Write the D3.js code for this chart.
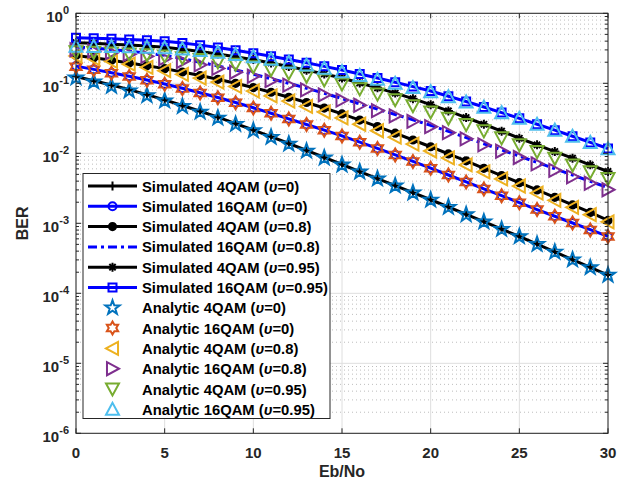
<!DOCTYPE html>
<html>
<head>
<meta charset="utf-8">
<script src="https://cdn.jsdelivr.net/npm/d3@7"></script>
<style>
  body { margin: 0; background: #fff; }
  svg { display: block; font-family: "Liberation Sans", Arial, Helvetica, sans-serif; font-weight: bold; }
</style>
</head>
<body>
<svg id="chart" width="635" height="487"></svg>
<script>
// Eb/No grid (dB)
const ebno = [0,1,2,3,4,5,6,7,8,9,10,11,12,13,14,15,16,17,18,19,20,21,22,23,24,25,26,27,28,29,30];

// Simulated BER curves
const sim4qamV0 = [0.125,0.109,0.0945,0.0812,0.0690,0.0580,0.0482,0.0399,0.0328,0.0266,0.0215,0.0173,0.0138,0.0110,0.00873,0.00692,0.00549,0.00436,0.00346,0.00274,0.00217,0.00171,0.00134,0.00106,8.25e-4,6.48e-4,5.03e-4,3.90e-4,3.02e-4,2.35e-4,1.82e-4];
const sim16qamV0 = [0.176,0.158,0.1415,0.1262,0.1118,0.0980,0.0849,0.0732,0.0627,0.0531,0.0447,0.0374,0.0311,0.0258,0.0214,0.0177,0.01442,0.01173,0.00951,0.00765,0.00613,0.00490,0.00390,0.00311,0.00248,0.00197,0.00157,0.00126,0.00101,8.1e-4,6.5e-4];
const sim4qamV08 = [0.250,0.232,0.213,0.195,0.178,0.162,0.145,0.129,0.114,0.100,0.0870,0.0745,0.0632,0.0532,0.0443,0.0365,0.0298,0.0241,0.0194,0.0155,0.0124,0.0098,0.0078,0.0061,0.0048,0.0038,0.0030,0.00235,0.00183,0.00143,0.00110];
const sim16qamV08 = [0.331,0.318,0.304,0.288,0.270,0.251,0.225,0.200,0.177,0.155,0.135,0.1164,0.100,0.0851,0.0719,0.0605,0.0509,0.0428,0.0359,0.0301,0.0251,0.0206,0.0168,0.0137,0.0112,0.00912,0.00741,0.00603,0.00490,0.00398,0.00324];
const sim4qamV095 = [0.380,0.372,0.362,0.352,0.340,0.327,0.306,0.285,0.263,0.2400,0.218,0.195,0.1738,0.1542,0.1358,0.1189,0.1012,0.0861,0.0724,0.0603,0.0495,0.0403,0.0324,0.0260,0.0207,0.0164,0.0132,0.0106,0.00851,0.00684,0.00550];
const sim16qamV095 = [0.447,0.441,0.433,0.423,0.411,0.398,0.376,0.351,0.324,0.296,0.269,0.243,0.219,0.196,0.1746,0.1549,0.1361,0.1189,0.1035,0.0897,0.0776,0.0653,0.0550,0.0459,0.0382,0.0316,0.0260,0.0214,0.0175,0.0143,0.0117];

// Analytic BER curves
const an4qamV0 = [0.120,0.105,0.0912,0.0785,0.0668,0.0562,0.0468,0.0389,0.0320,0.0260,0.0211,0.0170,0.0136,0.0108,0.00861,0.00684,0.00543,0.00432,0.00343,0.00272,0.00216,0.00170,0.00133,0.00105,8.22e-4,6.46e-4,5.01e-4,3.89e-4,3.02e-4,2.34e-4,1.82e-4];
const an16qamV0 = [0.1726,0.1556,0.1396,0.1250,0.1109,0.0973,0.0843,0.0728,0.0624,0.0528,0.0445,0.0372,0.0309,0.0257,0.0213,0.0176,0.01436,0.01169,0.00948,0.00762,0.00611,0.00488,0.00389,0.00310,0.00247,0.00197,0.00157,0.00126,0.00101,8.05e-4,6.46e-4];
const an4qamV08 = [0.2455,0.2254,0.2061,0.1875,0.1690,0.1514,0.1343,0.1186,0.1040,0.0902,0.0776,0.0661,0.0558,0.0468,0.0389,0.0320,0.0260,0.0210,0.0170,0.01355,0.01079,0.00859,0.00682,0.00542,0.00431,0.00341,0.00270,0.00213,0.00169,0.00133,0.00105];
const an16qamV08 = [0.302,0.288,0.274,0.259,0.243,0.226,0.205,0.184,0.163,0.144,0.126,0.109,0.0940,0.0804,0.0682,0.0575,0.0485,0.0407,0.0342,0.0286,0.0240,0.0197,0.0161,0.0132,0.0107,0.00871,0.00705,0.00570,0.00461,0.00373,0.00302];
const an4qamV095 = [0.282,0.277,0.270,0.263,0.255,0.2455,0.232,0.218,0.203,0.1875,0.1726,0.1563,0.1406,0.1259,0.1114,0.0977,0.0832,0.0700,0.0582,0.0479,0.0389,0.0316,0.0257,0.0209,0.0166,0.0132,0.01057,0.00847,0.00679,0.00543,0.00435];
const an16qamV095 = [0.339,0.337,0.335,0.332,0.328,0.322,0.309,0.294,0.277,0.258,0.240,0.220,0.200,0.182,0.164,0.1466,0.1297,0.1143,0.100,0.0871,0.0759,0.0643,0.0542,0.0456,0.0380,0.0316,0.0260,0.0214,0.0175,0.0143,0.0116];

// Legend text and axis ticks
const legendNames = ["Simulated 4QAM","Simulated 16QAM","Simulated 4QAM","Simulated 16QAM","Simulated 4QAM","Simulated 16QAM",
                     "Analytic 4QAM","Analytic 16QAM","Analytic 4QAM","Analytic 16QAM","Analytic 4QAM","Analytic 16QAM"];
const legendNu = ["0","0","0.8","0.8","0.95","0.95","0","0","0.8","0.8","0.95","0.95"];
const xTicks = [0,5,10,15,20,25,30];
const yExponents = [0,-1,-2,-3,-4,-5,-6];

// ---------- drawing ----------
const svg = d3.select("#chart");
const L = 76, R = 608, T = 13.3, B = 433.3;
const x = d3.scaleLinear().domain([0, 30]).range([L, R]);
const y = d3.scaleLog().domain([1e-6, 1]).range([B, T]);
const axisColor = "#262626";

// marker path builders (centered at 0,0)
function starPath(n, rOut, rIn) {
  const p = d3.path();
  for (let i = 0; i < 2 * n; i++) {
    const r = i % 2 ? rIn : rOut;
    const a = -Math.PI / 2 + i * Math.PI / n;
    const px = r * Math.cos(a), py = r * Math.sin(a);
    i ? p.lineTo(px, py) : p.moveTo(px, py);
  }
  p.closePath();
  return p.toString();
}
const M = {
  plus: s => `M${-s},0H${s}M0,${-s}V${s}`,
  asterisk: s => { const d = s * 0.7; return `M${-s},0H${s}M0,${-s}V${s}M${-d},${-d}L${d},${d}M${-d},${d}L${d},${-d}`; },
  circle: s => `M${s},0A${s},${s} 0 1,1 ${-s},0A${s},${s} 0 1,1 ${s},0Z`,
  square: s => `M${-s},${-s}H${s}V${s}H${-s}Z`,
  pentagram: s => starPath(5, s, s * 0.40),
  hexagram: s => starPath(6, s, s * 0.577),
  triLeft: s => `M${-s},0L${s * 0.85},${-s}L${s * 0.85},${s}Z`,
  triRight: s => `M${s},0L${-s * 0.85},${-s}L${-s * 0.85},${s}Z`,
  triDown: s => `M0,${s}L${-s},${-s * 0.85}L${s},${-s * 0.85}Z`,
  triUp: s => `M0,${-s}L${-s},${s * 0.85}L${s},${s * 0.85}Z`
};

const simSeries = [
  { values: sim4qamV0,    color: "#000000", dash: null,      marker: "plus",     size: 4.5, fill: "none" },
  { values: sim16qamV0,   color: "#0000ff", dash: null,      marker: "circle",   size: 4,   fill: "none" },
  { values: sim4qamV08,   color: "#000000", dash: null,      marker: "circle",   size: 3.6, fill: "#000000" },
  { values: sim16qamV08,  color: "#0000ff", dash: "9,4,3,4", marker: null },
  { values: sim4qamV095,  color: "#000000", dash: null,      marker: "asterisk", size: 4.5, fill: "none" },
  { values: sim16qamV095, color: "#0000ff", dash: null,      marker: "square",   size: 4,   fill: "none" }
];
const anSeries = [
  { values: an4qamV0,    color: "#0072BD", marker: "pentagram", size: 7.5 },
  { values: an16qamV0,   color: "#D95319", marker: "hexagram",  size: 6.5 },
  { values: an4qamV08,   color: "#EDB120", marker: "triLeft",   size: 6.5 },
  { values: an16qamV08,  color: "#7E2F8E", marker: "triRight",  size: 6.5 },
  { values: an4qamV095,  color: "#77AC30", marker: "triDown",   size: 6.5 },
  { values: an16qamV095, color: "#4DBEEE", marker: "triUp",     size: 6.5 }
];

// grid
const grid = svg.append("g");
const minorVals = [];
for (let e = -6; e < 0; e++) for (let m = 2; m <= 9; m++) minorVals.push(m * Math.pow(10, e));
grid.selectAll("line.minor").data(minorVals).join("line")
  .attr("x1", L).attr("x2", R).attr("y1", d => y(d)).attr("y2", d => y(d))
  .attr("stroke", "#bdbdbd").attr("stroke-width", 1).attr("stroke-dasharray", "1,3");
grid.selectAll("line.hmaj").data(yExponents).join("line")
  .attr("x1", L).attr("x2", R).attr("y1", d => y(Math.pow(10, d))).attr("y2", d => y(Math.pow(10, d)))
  .attr("stroke", "#dedede").attr("stroke-width", 1);
grid.selectAll("line.vmaj").data(xTicks).enter().append("line")
  .attr("x1", d => x(d)).attr("x2", d => x(d)).attr("y1", T).attr("y2", B)
  .attr("stroke", "#dedede").attr("stroke-width", 1);

// simulated curves
const line = d3.line().x((d, i) => x(ebno[i])).y(d => y(d));
simSeries.forEach(s => {
  const g = svg.append("g");
  g.append("path").attr("d", line(s.values)).attr("fill", "none")
    .attr("stroke", s.color).attr("stroke-width", 3)
    .attr("stroke-dasharray", s.dash);
  if (s.marker) {
    g.selectAll("path.m").data(s.values).enter().append("path")
      .attr("transform", (d, i) => `translate(${x(ebno[i])},${y(d)})`)
      .attr("d", M[s.marker](s.size))
      .attr("fill", s.fill).attr("stroke", s.color).attr("stroke-width", 2);
  }
});

// analytic markers
anSeries.forEach(s => {
  svg.append("g").selectAll("path").data(s.values).enter().append("path")
    .attr("transform", (d, i) => `translate(${x(ebno[i])},${y(d)})`)
    .attr("d", M[s.marker](s.size))
    .attr("fill", "none").attr("stroke", s.color).attr("stroke-width", 2)
    .attr("stroke-linejoin", "miter");
});

// axes box and ticks
const ax = svg.append("g").attr("stroke", axisColor).attr("stroke-width", 1);
ax.append("rect").attr("x", L).attr("y", T).attr("width", R - L).attr("height", B - T).attr("fill", "none");
xTicks.forEach(t => {
  ax.append("line").attr("x1", x(t)).attr("x2", x(t)).attr("y1", B).attr("y2", B - 5);
  ax.append("line").attr("x1", x(t)).attr("x2", x(t)).attr("y1", T).attr("y2", T + 5);
});
yExponents.forEach(e => {
  const yy = y(Math.pow(10, e));
  ax.append("line").attr("x1", L).attr("x2", L + 5).attr("y1", yy).attr("y2", yy);
  ax.append("line").attr("x1", R).attr("x2", R - 5).attr("y1", yy).attr("y2", yy);
});
minorVals.forEach(v => {
  const yy = y(v);
  ax.append("line").attr("x1", L).attr("x2", L + 3).attr("y1", yy).attr("y2", yy);
  ax.append("line").attr("x1", R).attr("x2", R - 3).attr("y1", yy).attr("y2", yy);
});

// tick labels
svg.append("g").selectAll("text").data(xTicks).join("text")
  .attr("x", d => x(d)).attr("y", 458).attr("text-anchor", "middle")
  .attr("font-size", 15).attr("fill", axisColor).text(d => d);
const yl = svg.append("g").selectAll("text").data(yExponents).join("text")
  .attr("x", 69).attr("y", d => y(Math.pow(10, d)) + 9).attr("text-anchor", "end")
  .attr("font-size", 15).attr("fill", axisColor);
yl.append("tspan").text("10");
yl.append("tspan").attr("dy", -8).attr("font-size", 11).text(d => d);

// axis titles
svg.append("text").attr("x", (L + R) / 2).attr("y", 477).attr("text-anchor", "middle")
  .attr("font-size", 16).attr("fill", axisColor).text("Eb/No");
svg.append("text").attr("transform", `translate(28,${(T + B) / 2}) rotate(-90)`)
  .attr("text-anchor", "middle").attr("font-size", 16).attr("fill", axisColor).text("BER");

// legend
const lg = svg.append("g");
const lgX = 83, lgY = 173.5, lgW = 247, lgH = 245, row0 = 186, rowH = 20.3;
lg.append("rect").attr("x", lgX).attr("y", lgY).attr("width", lgW).attr("height", lgH)
  .attr("fill", "#fff").attr("stroke", axisColor).attr("stroke-width", 1);
legendNames.forEach((name, i) => {
  const ry = row0 + i * rowH;
  if (i < 6) {
    const s = simSeries[i];
    lg.append("line").attr("x1", 88).attr("x2", 137).attr("y1", ry).attr("y2", ry)
      .attr("stroke", s.color).attr("stroke-width", 3).attr("stroke-dasharray", s.dash);
    if (s.marker) lg.append("path").attr("transform", `translate(112.5,${ry})`)
      .attr("d", M[s.marker](s.size)).attr("fill", s.fill).attr("stroke", s.color).attr("stroke-width", 2);
  } else {
    const s = anSeries[i - 6];
    lg.append("path").attr("transform", `translate(112.5,${ry})`)
      .attr("d", M[s.marker](s.size)).attr("fill", "none").attr("stroke", s.color).attr("stroke-width", 2);
  }
  const t = lg.append("text").attr("x", 142).attr("y", ry + 5.5).attr("font-size", 14.8).attr("fill", "#000");
  t.append("tspan").text(name + " (");
  t.append("tspan").attr("font-style", "italic").text("υ");
  t.append("tspan").text("=" + legendNu[i] + ")");
});
</script>
</body>
</html>
